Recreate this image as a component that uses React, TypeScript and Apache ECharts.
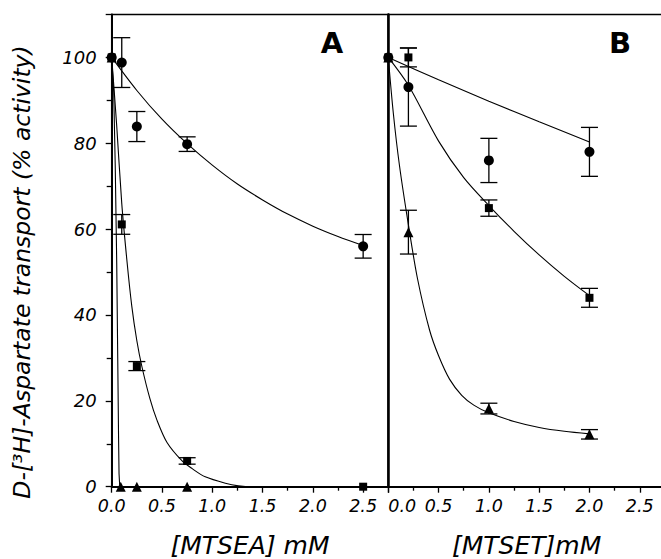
import React, { useEffect, useRef } from "react";
import * as echarts from "echarts";

// ---------- Panel A: MTSEA ----------
const aCircleX = [0, 0.1, 0.25, 0.75, 2.5];
const aCircleY = [100, 98.8, 83.9, 79.8, 56.0];
const aCircleErr = [0, 5.8, 3.5, 1.7, 2.75];

const aSquareX = [0, 0.1, 0.25, 0.75, 2.5];
const aSquareY = [100, 61.1, 28.1, 6.0, 0];
const aSquareErr = [0, 2.3, 1.05, 0.75, 0];

const aTriangleX = [0, 0.09, 0.25, 0.75];
const aTriangleY = [100, 0, 0, 0];
const aTriangleErr = [0, 0, 0, 0];

// fitted curves
const aCircleFitX = [0, 0.25, 0.5, 0.75, 1.0, 1.25, 1.5, 1.75, 2.0, 2.25, 2.5];
const aCircleFitY = [100, 92.3, 85.6, 79.9, 74.9, 70.5, 66.8, 63.5, 60.7, 58.3, 56.2];

const aSquareFitX = [0, 0.05, 0.1, 0.15, 0.2, 0.25, 0.3, 0.38, 0.45, 0.55, 0.7, 0.8, 0.93, 1.13, 1.26, 1.4, 2.5];
const aSquareFitY = [100, 84, 66, 53, 42, 34, 28, 20.5, 15.5, 10.3, 6.0, 4.2, 2.3, 0.8, 0.2, 0, 0];

const aTriangleFitX = [0, 0.02, 0.035, 0.05, 0.06, 0.068, 0.073, 0.08, 0.75];
const aTriangleFitY = [100, 92, 75, 52, 30, 12, 3, 0, 0];

// ---------- Panel B: MTSET ----------
const bCircleX = [0, 0.2, 1.0, 2.0];
const bCircleY = [100, 93.1, 76.0, 78.0];
const bCircleErr = [0, 9.1, 5.15, 5.7];

const bSquareX = [0, 0.2, 1.0, 2.0];
const bSquareY = [100, 100, 64.9, 44.0];
const bSquareErr = [0, 2.2, 1.9, 2.2];

const bTriangleX = [0, 0.2, 1.0, 2.0];
const bTriangleY = [100, 59.3, 18.2, 12.2];
const bTriangleErr = [0, 5.1, 1.25, 1.1];

const bCircleFitX = [0, 0.5, 1.0, 1.5, 2.0];
const bCircleFitY = [100, 94.8, 89.8, 85.0, 80.3];

const bSquareFitX = [0, 0.2, 0.5, 0.75, 1.0, 1.25, 1.5, 1.75, 2.0];
const bSquareFitY = [100, 93.5, 80.5, 72, 65.5, 59.5, 54, 49, 44.5];

const bTriangleFitX = [0, 0.05, 0.11, 0.2, 0.29, 0.41, 0.5, 0.61, 0.73, 0.85, 1.0, 1.25, 1.5, 1.75, 2.0];
const bTriangleFitY = [100, 87, 75, 61, 48.5, 36.5, 30.5, 25, 21.3, 19, 17.2, 15.2, 13.8, 12.9, 12.3];

// ---------- axis labels ----------
const yTickLabels = ["0", "20", "40", "60", "80", "100"];
const xTickLabels = ["0.0", "0.5", "1.0", "1.5", "2.0", "2.5"];
const yTitle = "D-[\u00B3H]-Aspartate transport (% activity)";
const xTitleA = "[MTSEA] mM";
const xTitleB = "[MTSET]mM";
const panelA = "A";
const panelB = "B";

const FONT = "'DejaVu Sans', Verdana, sans-serif";

const zip2 = (xs: number[], ys: number[]) => xs.map((x, i) => [x, ys[i]]);
const zip3 = (xs: number[], ys: number[], es: number[]) => xs.map((x, i) => [x, ys[i], es[i]]);

function errRender(params: any, api: any) {
  const x = api.value(0);
  const y = api.value(1);
  const e = api.value(2);
  if (!e) return { type: "group", children: [] };
  const top = api.coord([x, y + e]);
  const bot = api.coord([x, y - e]);
  const hw = 8.5;
  const st = { stroke: "#000", lineWidth: 1.3 };
  return {
    type: "group",
    children: [
      { type: "line", shape: { x1: top[0], y1: top[1], x2: bot[0], y2: bot[1] }, style: st },
      { type: "line", shape: { x1: top[0] - hw, y1: top[1], x2: top[0] + hw, y2: top[1] }, style: st },
      { type: "line", shape: { x1: bot[0] - hw, y1: bot[1], x2: bot[0] + hw, y2: bot[1] }, style: st },
    ],
  };
}

function xAxisFor(gridIndex: number, name: string, alignMin: string) {
  return {
    type: "value",
    gridIndex,
    min: 0,
    max: 2.75,
    interval: 0.5,
    name,
    nameLocation: "middle",
    nameGap: 46,
    nameTextStyle: { fontFamily: FONT, fontStyle: "italic", fontSize: 25, color: "#000" },
    axisLine: { show: true, lineStyle: { color: "#000", width: 2 } },
    axisTick: { show: true, inside: false, length: 6, lineStyle: { color: "#000", width: 1.3 } },
    minorTick: { show: true, splitNumber: 2, length: 4, lineStyle: { color: "#000", width: 1.3 } },
    splitLine: { show: false },
    minorSplitLine: { show: false },
    axisLabel: {
      show: true,
      margin: 10,
      showMaxLabel: false,
      alignMinLabel: alignMin,
      fontFamily: FONT,
      fontStyle: "italic",
      fontSize: 17.5,
      color: "#000",
      formatter: (v: number) => {
        const i = Math.round(v / 0.5);
        return Math.abs(i * 0.5 - v) < 1e-6 && i < xTickLabels.length ? xTickLabels[i] : "";
      },
    },
  };
}

function lineSeries(xi: number, xs: number[], ys: number[], smooth: any) {
  return {
    type: "line",
    xAxisIndex: xi,
    yAxisIndex: xi,
    data: zip2(xs, ys),
    showSymbol: false,
    symbol: "none",
    smooth,
    lineStyle: { color: "#000", width: 1.1 },
    z: 2,
    silent: true,
  };
}

function scatterSeries(xi: number, xs: number[], ys: number[], symbol: string, size: number) {
  return {
    type: "scatter",
    xAxisIndex: xi,
    yAxisIndex: xi,
    data: zip2(xs, ys),
    symbol,
    symbolSize: size,
    itemStyle: { color: "#000", opacity: 1 },
    z: 4,
    silent: true,
  };
}

function errSeries(xi: number, xs: number[], ys: number[], es: number[]) {
  return {
    type: "custom",
    xAxisIndex: xi,
    yAxisIndex: xi,
    data: zip3(xs, ys, es),
    encode: { x: 0, y: 1 },
    renderItem: errRender,
    z: 3,
    silent: true,
  };
}

export default function App() {
  const ref = useRef<HTMLDivElement>(null);

  useEffect(() => {
    document.body.style.margin = "0";
    if (!ref.current) return;
    const chart = echarts.init(ref.current, undefined, { renderer: "svg" });

    const gridCommon = {
      top: 14.5,
      height: 472.2,
      width: 276.6,
      show: true,
      borderColor: "#000",
      borderWidth: 1.5,
      backgroundColor: "transparent",
      containLabel: false,
      outerBoundsMode: "none",
    };

    const option: any = {
      animation: false,
      backgroundColor: "#fff",
      grid: [
        { ...gridCommon, left: 111.7 },
        { ...gridCommon, left: 388.3 },
      ],
      xAxis: [xAxisFor(0, xTitleA, "center"), xAxisFor(1, xTitleB, "left")],
      yAxis: [
        {
          type: "value",
          gridIndex: 0,
          min: 0,
          max: 110,
          interval: 20,
          axisLine: { show: true, lineStyle: { color: "#000", width: 2 } },
          axisTick: { show: true, inside: false, length: 6, lineStyle: { color: "#000", width: 1.3 } },
          minorTick: { show: true, splitNumber: 2, length: 5, lineStyle: { color: "#000", width: 1.3 } },
          splitLine: { show: false },
          minorSplitLine: { show: false },
          axisLabel: {
            show: true,
            margin: 15,
            showMaxLabel: false,
            fontFamily: FONT,
            fontStyle: "italic",
            fontSize: 18,
            color: "#000",
            formatter: (v: number) => {
              const i = Math.round(v / 20);
              return Math.abs(i * 20 - v) < 1e-6 && i < yTickLabels.length ? yTickLabels[i] : "";
            },
          },
        },
        {
          type: "value",
          gridIndex: 1,
          min: 0,
          max: 110,
          interval: 20,
          axisLine: { show: true, lineStyle: { color: "#000", width: 2.5 } },
          axisTick: { show: false },
          minorTick: { show: false },
          axisLabel: { show: false },
          splitLine: { show: false },
        },
      ],
      graphic: [
        {
          type: "text",
          x: 22,
          y: 272,
          rotation: Math.PI / 2,
          style: {
            text: yTitle,
            fontFamily: FONT,
            fontStyle: "italic",
            fontSize: 23.5,
            fill: "#000",
            align: "center",
            verticalAlign: "middle",
          },
        },
        {
          type: "text",
          x: 332,
          y: 43,
          style: { text: panelA, fontFamily: FONT, fontSize: 29, fontWeight: "bold", fill: "#000", align: "center", verticalAlign: "middle" },
        },
        {
          type: "text",
          x: 620,
          y: 43,
          style: { text: panelB, fontFamily: FONT, fontSize: 29, fontWeight: "bold", fill: "#000", align: "center", verticalAlign: "middle" },
        },
      ],
      series: [
        // Panel A curves
        lineSeries(0, aCircleFitX, aCircleFitY, 0.3),
        lineSeries(0, aSquareFitX, aSquareFitY, 0.3),
        lineSeries(0, aTriangleFitX, aTriangleFitY, false),
        // Panel A error bars
        errSeries(0, aCircleX, aCircleY, aCircleErr),
        errSeries(0, aSquareX, aSquareY, aSquareErr),
        errSeries(0, aTriangleX, aTriangleY, aTriangleErr),
        // Panel A markers
        scatterSeries(0, aCircleX, aCircleY, "circle", 10),
        scatterSeries(0, aSquareX, aSquareY, "rect", 8),
        scatterSeries(0, aTriangleX, aTriangleY, "triangle", 10),
        // Panel B curves
        lineSeries(1, bCircleFitX, bCircleFitY, 0.3),
        lineSeries(1, bSquareFitX, bSquareFitY, 0.3),
        lineSeries(1, bTriangleFitX, bTriangleFitY, 0.3),
        // Panel B error bars
        errSeries(1, bCircleX, bCircleY, bCircleErr),
        errSeries(1, bSquareX, bSquareY, bSquareErr),
        errSeries(1, bTriangleX, bTriangleY, bTriangleErr),
        // Panel B markers
        scatterSeries(1, bCircleX, bCircleY, "circle", 10),
        scatterSeries(1, bSquareX, bSquareY, "rect", 8),
        scatterSeries(1, bTriangleX, bTriangleY, "triangle", 10),
      ],
    };

    chart.setOption(option);
    return () => {
      chart.dispose();
    };
  }, []);

  return <div ref={ref} style={{ width: 661, height: 559, background: "#fff" }} />;
}
